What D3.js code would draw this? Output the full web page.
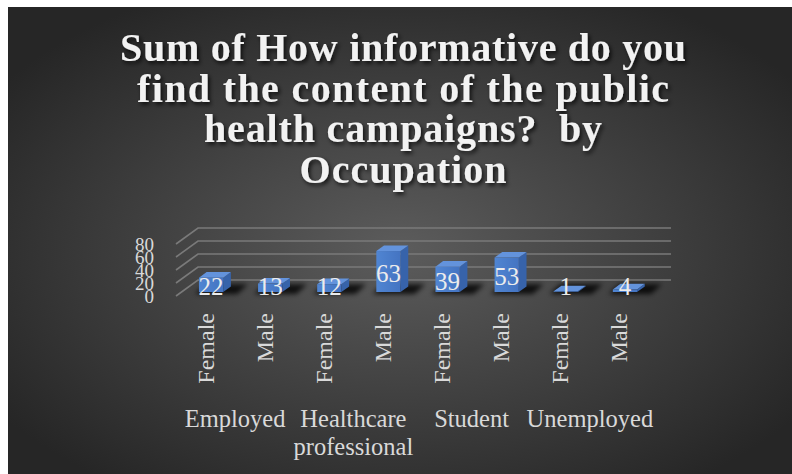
<!DOCTYPE html>
<html>
<head>
<meta charset="utf-8">
<script src="https://cdn.jsdelivr.net/npm/d3@7"></script>
<style>
  html, body { margin: 0; padding: 0; background: #ffffff; }
  svg { display: block; }
</style>
</head>
<body>
<svg id="chart" width="792" height="474"></svg>
<script>
// Sum of informativeness ratings, by occupation and gender
const occupations = ["Employed", "Healthcare professional", "Student", "Unemployed"];
const genders = ["Female", "Male"];
const femaleValues = [22, 12, 39, 1];
const maleValues = [13, 63, 53, 4];
const yTicks = [0, 20, 40, 60, 80];
const titleLines = [
  "Sum of How informative do you",
  "find the content of the public",
  "health campaigns?  by",
  "Occupation"
];

const rows = [];
occupations.forEach((o, i) => {
  rows.push({ occupation: o, gender: genders[0], value: femaleValues[i] });
  rows.push({ occupation: o, gender: genders[1], value: maleValues[i] });
});

const svg = d3.select("#chart");
const defs = svg.append("defs");

// dark radial backdrop
const bg = defs.append("radialGradient").attr("id", "bgGrad")
  .attr("cx", "50%").attr("cy", "52%").attr("r", "62%");
bg.append("stop").attr("offset", "0%").attr("stop-color", "#5c5c5c");
bg.append("stop").attr("offset", "100%").attr("stop-color", "#262626");

const shadow = defs.append("filter").attr("id", "titleShadow")
  .attr("x", "-10%").attr("y", "-30%").attr("width", "120%").attr("height", "160%");
shadow.append("feDropShadow").attr("dx", 2).attr("dy", 2.5).attr("stdDeviation", 2)
  .attr("flood-color", "#000").attr("flood-opacity", 0.75);

const blur = defs.append("filter").attr("id", "floorBlur")
  .attr("x", "-50%").attr("y", "-100%").attr("width", "200%").attr("height", "300%");
blur.append("feGaussianBlur").attr("stdDeviation", 2.5);

const frontGrad = defs.append("linearGradient").attr("id", "frontGrad")
  .attr("x1", 0).attr("x2", 1).attr("y1", 0).attr("y2", 0);
frontGrad.append("stop").attr("offset", "0%").attr("stop-color", "#5085d2");
frontGrad.append("stop").attr("offset", "100%").attr("stop-color", "#4474c2");

svg.append("rect").attr("x", 8).attr("y", 7).attr("width", 784).attr("height", 467)
  .attr("fill", "url(#bgGrad)");

// title
const title = svg.append("text")
  .attr("text-anchor", "middle")
  .attr("font-family", "'Liberation Serif', 'DejaVu Serif', serif")
  .attr("font-weight", "bold")
  .attr("font-size", 40)
  .attr("fill", "#f2f2f2")
  .style("white-space", "pre")
  .attr("filter", "url(#titleShadow)");
const titleWidths = [566, 532, 398, 207];
titleLines.forEach((line, i) => {
  title.append("tspan")
    .attr("x", 403)
    .attr("y", 61 + i * 40.7)
    .attr("textLength", titleWidths[i])
    .attr("lengthAdjust", "spacing")
    .text(line);
});

// 3D frame: front plane + depth vector
const depth = [22, -16];
const xGroup = d3.scaleBand().domain(occupations).range([176, 649]);
const xSub = d3.scaleBand().domain(genders).range([0, xGroup.bandwidth()]);
const y = d3.scaleLinear().domain([0, 80]).range([296, 244]);
const proj = (x, v, t) => [x + t * depth[0], y(v) + t * depth[1]];

const grid = svg.append("g").attr("stroke", "#7a7a7a").attr("stroke-width", 1.6).attr("fill", "none");
yTicks.forEach(v => {
  const a = proj(xGroup.range()[0], v, 0);
  const b = proj(xGroup.range()[0], v, 1);
  const c = proj(xGroup.range()[1], v, 1);
  grid.append("path").attr("d", d3.line()([a, b, c]));
});

// y tick labels on the front plane
svg.append("g")
  .attr("font-family", "'Liberation Serif', serif")
  .attr("font-size", 19)
  .attr("fill", "#d9d9d9")
  .attr("text-anchor", "end")
  .selectAll("text").data(yTicks).join("text")
  .attr("x", 154)
  .attr("y", d => y(d))
  .attr("dy", "0.35em")
  .text(d => d);

// bars
const t0 = 0.25, t1 = 0.6;
const barW = xSub.bandwidth() * 0.41;
const ddx = (t1 - t0) * depth[0], ddy = (t1 - t0) * depth[1];
const barCenter = d => xGroup(d.occupation) + xSub(d.gender) + xSub.bandwidth() / 2 + t0 * depth[0];

const shadows = svg.append("g").attr("filter", "url(#floorBlur)");
rows.forEach(d => {
  const cx = barCenter(d);
  const yb = y(0) + t0 * depth[1];
  const pts = [
    [cx - barW / 2 - 4, yb + 2],
    [cx + barW / 2 + 14, yb + 2],
    [cx + barW / 2 + 14 + ddx * 1.4, yb + ddy * 1.4],
    [cx - barW / 2 - 4 + ddx * 1.4, yb + ddy * 1.4]
  ];
  shadows.append("polygon").attr("points", pts.map(p => p.join(",")).join(" "))
    .attr("fill", "#000").attr("opacity", 0.8);
});

const bars = svg.append("g");
rows.forEach(d => {
  const cx = barCenter(d);
  const xl = cx - barW / 2, xr = cx + barW / 2;
  const yt = y(d.value) + t0 * depth[1];
  const yb = y(0) + t0 * depth[1];
  const g = bars.append("g");
  g.append("polygon")
    .attr("points", [[xr, yt], [xr + ddx, yt + ddy], [xr + ddx, yb + ddy], [xr, yb]].map(p => p.join(",")).join(" "))
    .attr("fill", "#3763aa");
  g.append("polygon")
    .attr("points", [[xl, yt], [xr, yt], [xr + ddx, yt + ddy], [xl + ddx, yt + ddy]].map(p => p.join(",")).join(" "))
    .attr("fill", "#6393dc");
  g.append("rect")
    .attr("x", xl).attr("y", yt).attr("width", barW).attr("height", yb - yt)
    .attr("fill", "url(#frontGrad)");
});

// value labels
svg.append("g")
  .attr("font-family", "'Liberation Serif', serif")
  .attr("font-size", 25)
  .attr("fill", "#ececec")
  .attr("text-anchor", "middle")
  .selectAll("text").data(rows).join("text")
  .attr("x", d => barCenter(d))
  .attr("y", d => Math.min((y(d.value) + y(0)) / 2 + t0 * depth[1] + 1.5, 286))
  .attr("dy", "0.35em")
  .text(d => d.value);

// gender labels (rotated)
svg.append("g")
  .attr("font-family", "'Liberation Serif', serif")
  .attr("font-size", 24)
  .attr("fill", "#d9d9d9")
  .attr("text-anchor", "end")
  .selectAll("text").data(rows).join("text")
  .attr("transform", d => `translate(${xGroup(d.occupation) + xSub(d.gender) + xSub.bandwidth() / 2 + 8},313) rotate(-90)`)
  .text(d => d.gender);

// occupation labels
const occLabels = {
  "Employed": ["Employed"],
  "Healthcare professional": ["Healthcare", "professional"],
  "Student": ["Student"],
  "Unemployed": ["Unemployed"]
};
const occ = svg.append("g")
  .attr("font-family", "'Liberation Serif', serif")
  .attr("font-size", 24.5)
  .attr("fill", "#d9d9d9")
  .attr("text-anchor", "middle");
occupations.forEach(o => {
  const t = occ.append("text");
  occLabels[o].forEach((line, i) => {
    t.append("tspan").attr("x", xGroup(o) + xGroup.bandwidth() / 2).attr("y", 427 + i * 28).text(line);
  });
});
</script>
</body>
</html>
